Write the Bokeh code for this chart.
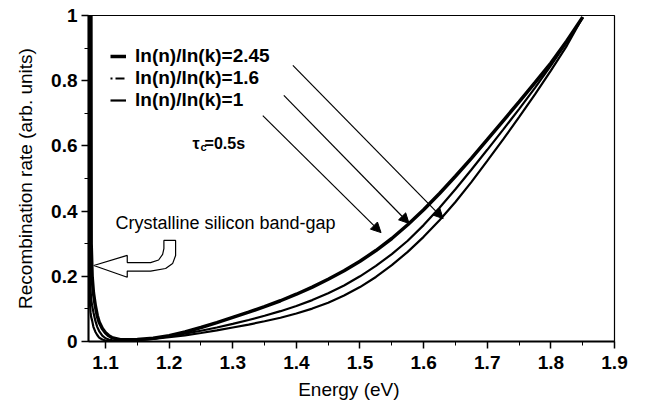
import numpy as np
from bokeh.plotting import figure
from bokeh.models import (Range1d, FixedTicker, Legend, LegendItem, Arrow,
                          NormalHead, Label, PolyAnnotation)
from bokeh.embed import file_html
from bokeh.resources import INLINE

# ---------------- data ----------------
energy = [1.0733, 1.0745, 1.0755, 1.0765, 1.0775, 1.079, 1.081, 1.084, 1.087,
          1.09, 1.095, 1.1, 1.105, 1.11,
          1.125, 1.15, 1.175, 1.2, 1.225, 1.25, 1.275, 1.3, 1.325, 1.35,
          1.375, 1.4, 1.425, 1.45, 1.475, 1.5, 1.525, 1.55, 1.575, 1.6,
          1.625, 1.65, 1.675, 1.7, 1.725, 1.75, 1.775, 1.8, 1.825, 1.85]
rate_245 = [3, 3, 3, 2, 0.3, 0.2, 0.15, 0.11, 0.08, 0.06, 0.04, 0.027, 0.018,
            0.012,
            0.005, 0.006, 0.010, 0.018, 0.029, 0.043, 0.058, 0.074, 0.090,
            0.107, 0.125, 0.145, 0.167, 0.191, 0.217, 0.246, 0.279, 0.316,
            0.358, 0.404, 0.454, 0.507, 0.562, 0.619, 0.677, 0.735, 0.794,
            0.854, 0.922, 0.995]
rate_16 = [3, 3, 0.25, 0.16, 0.13, 0.11, 0.09, 0.064, 0.045, 0.032, 0.018,
           0.01, 0.006, 0.004,
           0.003, 0.005, 0.009, 0.016, 0.024, 0.033, 0.043, 0.054, 0.066,
           0.079, 0.093, 0.109, 0.127, 0.148, 0.172, 0.200, 0.232, 0.268,
           0.309, 0.357, 0.410, 0.467, 0.527, 0.588, 0.650, 0.713, 0.778,
           0.846, 0.918, 0.995]
rate_1 = [3, 0.25, 0.12, 0.09, 0.075, 0.064, 0.045, 0.03, 0.02, 0.012, 0.006,
          0.003, 0.002, 0.001,
          0.002, 0.004, 0.008, 0.013, 0.019, 0.026, 0.034, 0.043, 0.052,
          0.062, 0.073, 0.086, 0.101, 0.119, 0.141, 0.167, 0.198, 0.234,
          0.275, 0.321, 0.372, 0.428, 0.489, 0.554, 0.620, 0.688, 0.758,
          0.831, 0.907, 0.995]
series_labels = ["ln(n)/ln(k)=2.45", "ln(n)/ln(k)=1.6", "ln(n)/ln(k)=1"]

x_ticks = [1.1, 1.2, 1.3, 1.4, 1.5, 1.6, 1.7, 1.8, 1.9]
x_minor = [1.15, 1.25, 1.35, 1.45, 1.55, 1.65, 1.75, 1.85]
y_ticks = [0, 0.2, 0.4, 0.6, 0.8, 1.0]
y_minor = [0.1, 0.3, 0.5, 0.7, 0.9]
y_tick_labels = ["0", "0.2", "0.4", "0.6", "0.8", "1"]

# annotation geometry (pointer arrows and hollow band-gap arrow)
arrow_x_start = [1.3945, 1.3803, 1.3472]
arrow_y_start = [0.847, 0.755, 0.693]
arrow_x_end = [1.6307, 1.5772, 1.5331]
arrow_y_end = [0.377, 0.362, 0.334]
gap_arrow_x = [1.0816, 1.1342, 1.1342, 1.1709, 1.1835, 1.1898, 1.1918, 1.1918,
               1.2102, 1.2102, 1.2055, 1.1945, 1.1709, 1.1342, 1.1342]
gap_arrow_y = [0.233, 0.264, 0.242, 0.242, 0.250, 0.267, 0.285, 0.310,
               0.310, 0.264, 0.239, 0.224, 0.216, 0.216, 0.197]

FONT = "Liberation Sans"

p = figure(width=646, height=404, x_range=Range1d(1.0733, 1.9),
           y_range=Range1d(0, 1), output_backend="svg", toolbar_location=None,
           min_border_left=88, min_border_right=32, min_border_top=15,
           min_border_bottom=63, background_fill_color="white",
           border_fill_color="white")
p.xgrid.visible = False
p.ygrid.visible = False
p.outline_line_color = "black"
p.outline_line_width = 1.2

# curves
r_a = p.line(energy, rate_245, line_color="black", line_width=3.5)
r_b = p.line(energy, rate_16, line_color="black", line_width=2.2)
r_c = p.line(energy, rate_1, line_color="black", line_width=2.2)
# legend sample for the dash-dot style
r_b_leg = p.line([np.nan], [np.nan], line_color="black", line_width=2.2,
                 line_dash="2 3 9 2")

# axes
p.xaxis.ticker = FixedTicker(ticks=x_ticks, minor_ticks=x_minor)
p.yaxis.ticker = FixedTicker(ticks=y_ticks, minor_ticks=y_minor)
p.yaxis.major_label_overrides = {t: l for t, l in zip(y_ticks, y_tick_labels)}
for ax in (p.xaxis[0], p.yaxis[0]):
    ax.axis_line_color = "black"
    ax.axis_line_width = 2
    ax.major_tick_out = 7
    ax.major_tick_in = 0
    ax.minor_tick_out = 4
    ax.minor_tick_in = 0
    ax.major_tick_line_width = 1.5
    ax.minor_tick_line_width = 1
    ax.major_tick_line_color = "black"
    ax.minor_tick_line_color = "black"
    ax.major_label_text_font = FONT
    ax.major_label_text_font_style = "bold"
    ax.major_label_text_font_size = "19px"
    ax.major_label_text_color = "black"
    ax.axis_label_text_font = FONT
    ax.axis_label_text_font_style = "normal"
    ax.axis_label_text_font_size = "19px"
    ax.axis_label_text_color = "black"
p.xaxis.axis_label = "Energy  (eV)"
p.yaxis.axis_label = "Recombination rate (arb. units)"
p.xaxis.major_label_standoff = 7
p.xaxis.axis_label_standoff = 7
p.yaxis.major_label_standoff = 4
p.yaxis.axis_label_standoff = 12

# legend
legend = Legend(items=[LegendItem(label=series_labels[0], renderers=[r_a]),
                       LegendItem(label=series_labels[1], renderers=[r_b_leg]),
                       LegendItem(label=series_labels[2], renderers=[r_c])],
                location=(22, 230), padding=0, margin=0, spacing=0,
                glyph_width=16, glyph_height=20, label_height=20,
                label_standoff=9, label_text_font=FONT,
                label_text_font_style="bold", label_text_font_size="19px",
                label_text_color="black",
                background_fill_alpha=0, border_line_alpha=0)
p.add_layout(legend)

# pointer arrows
for xs, ys, xe, ye in zip(arrow_x_start, arrow_y_start, arrow_x_end, arrow_y_end):
    p.add_layout(Arrow(end=NormalHead(size=10, fill_color="black",
                                      line_color="black"),
                       x_start=xs, y_start=ys, x_end=xe, y_end=ye,
                       line_color="black", line_width=1.2))

# hollow band-gap arrow
p.add_layout(PolyAnnotation(xs=gap_arrow_x, ys=gap_arrow_y, fill_color="white",
                            fill_alpha=1, line_color="black", line_alpha=1,
                            line_width=1.2))

# texts
p.add_layout(Label(x=1.1157, y=0.363, text="Crystalline silicon band-gap",
                   text_font=FONT, text_font_size="18px", text_color="black",
                   text_baseline="alphabetic"))
p.add_layout(Label(x=1.2368, y=0.607, text="τ", text_font=FONT,
                   text_font_style="bold", text_font_size="16px",
                   text_color="black", text_baseline="alphabetic"))
p.add_layout(Label(x=1.2494, y=0.598, text="c", text_font=FONT,
                   text_font_style="bold", text_font_size="11px",
                   text_color="black", text_baseline="alphabetic"))
p.add_layout(Label(x=1.2557, y=0.607, text="=0.5s", text_font=FONT,
                   text_font_style="bold", text_font_size="16px",
                   text_color="black", text_baseline="alphabetic"))

open("out.html", "w").write(file_html(p, INLINE))
